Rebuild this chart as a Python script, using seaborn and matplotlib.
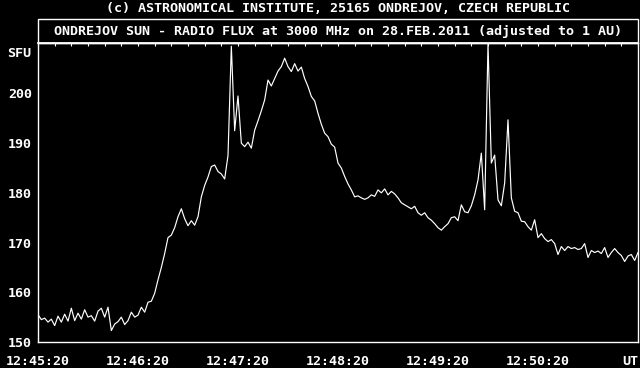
import numpy as np
import pandas as pd
import matplotlib
matplotlib.use("Agg")
import matplotlib.pyplot as plt
from matplotlib.patches import Rectangle
import seaborn as sns

# ---- data (seconds after 12:45:20, flux in SFU) ----
seconds = np.arange(0, 361, 2)
flux = [
    155.5, 154.5, 154.8, 154.0, 154.6, 153.3, 155.2, 154.0, 155.6, 154.2,
    156.8, 154.3, 155.8, 154.6, 156.5, 155.0, 155.3, 154.2, 156.2, 156.8,
    155.0, 157.0, 152.3, 153.6, 154.1, 155.0, 153.5, 154.3, 156.0, 155.0,
    155.4, 157.0, 156.0, 158.0, 158.2, 159.8, 162.5, 165.0, 167.8, 171.0,
    171.5, 173.0, 175.2, 176.8, 174.8, 173.4, 174.4, 173.5, 175.2, 179.2,
    181.5, 183.2, 185.3, 185.6, 184.3, 183.8, 182.8, 187.5, 209.5, 192.5,
    199.5, 190.0, 189.3, 190.2, 189.0, 192.6, 194.5, 196.5, 198.7, 202.7,
    201.5, 203.0, 204.5, 205.4, 207.1, 205.4, 204.4, 206.0, 204.5, 205.3,
    203.0, 201.4, 199.4, 198.5, 196.0, 193.8, 192.0, 191.3, 189.8, 189.2,
    186.0, 185.0, 183.3, 181.8, 180.6, 179.2, 179.4, 179.0, 178.7, 179.0,
    179.6, 179.3, 180.6, 180.0, 180.8, 179.6, 180.3, 179.8, 179.0, 178.0,
    177.6, 177.2, 176.8, 177.3, 176.0, 175.5, 176.0, 175.0, 174.5, 173.8,
    173.0, 172.5, 173.2, 173.8, 175.0, 175.2, 174.4, 177.6, 176.2, 176.0,
    177.4, 179.6, 182.6, 188.0, 176.6, 210.0, 186.0, 187.6, 178.6, 177.4,
    182.0, 194.7, 179.0, 176.3, 176.0, 174.3, 174.2, 173.2, 172.5, 174.6,
    171.0, 171.8, 170.8, 170.2, 170.6, 169.8, 167.6, 169.2, 168.4, 169.2,
    168.8, 169.0, 168.6, 168.8, 169.8, 167.0, 168.4, 168.0, 168.3, 167.8,
    169.0, 167.0, 168.0, 168.8, 168.0, 167.4, 166.2, 167.3, 167.6, 166.4,
    168.0,
]
x_tick_pos = [0, 60, 120, 180, 240, 300, 360]
x_tick_labels = ["12:45:20", "12:46:20", "12:47:20", "12:48:20",
                 "12:49:20", "12:50:20", "UT"]
y_tick_pos = [150, 160, 170, 180, 190, 200]
y_unit_label = "SFU"
title_top = "(c) ASTRONOMICAL INSTITUTE, 25165 ONDREJOV, CZECH REPUBLIC"
title_box = "ONDREJOV SUN - RADIO FLUX at 3000 MHz on 28.FEB.2011 (adjusted to 1 AU)"

df = pd.DataFrame({"t": seconds, "sfu": flux})

sns.set_theme(style="dark")
plt.rcParams["font.family"] = ["DejaVu Sans Mono"]
plt.rcParams["font.weight"] = "bold"

W, H = 640, 368
fig = plt.figure(figsize=(W / 100, H / 100), dpi=100, facecolor="black")
ax = fig.add_axes([38 / W, (H - 342) / H, 600 / W, 299 / H])
ax.set_facecolor("black")

sns.lineplot(data=df, x="t", y="sfu", ax=ax, color="white", linewidth=0.85)

ax.set_xlim(0, 360)
ax.set_ylim(150, 210.15)
ax.set_xlabel("")
ax.set_ylabel("")
for s in ax.spines.values():
    s.set_color("white")
    s.set_linewidth(1.0)
    s.set_visible(True)

fs = 9.6
ax.set_xticks(x_tick_pos)
ax.set_xticklabels(x_tick_labels)
ax.set_xticks(np.arange(0, 361, 10), minor=True)
ax.set_yticks(y_tick_pos)
ax.set_yticklabels([str(v) for v in y_tick_pos])
ax.set_yticks(list(range(152, 205, 2)) + [208], minor=True)

ax.tick_params(axis="both", which="major", colors="white", direction="out",
               length=2.2, width=2.2, labelsize=fs, labelcolor="white")
ax.tick_params(axis="x", which="major", pad=7)
ax.tick_params(axis="y", which="major", pad=2)
ax.tick_params(axis="both", which="minor", colors="white", direction="out",
               length=1.6, width=0.8)
for lab in ax.get_xticklabels():
    lab.set_fontweight("bold")
for lab in ax.get_yticklabels():
    lab.set_fontweight("bold")
ax.get_xticklabels()[-1].set_horizontalalignment("right")
ax.grid(False)

# inward ticks along the top edge
top = ax.secondary_xaxis("top")
top.set_xticks(np.arange(0, 361, 10))
top.set_xticklabels([])
top.tick_params(direction="in", length=2.0, width=0.8, colors="white")
top.spines["top"].set_color("white")

ax.text(-0.011, 208, y_unit_label, transform=ax.get_yaxis_transform(),
        ha="right", va="center", color="white", fontsize=fs, fontweight="bold")

# title frame above the plot area
fig.add_artist(Rectangle((38 / W, (H - 43) / H), 600 / W, 24 / H,
                         transform=fig.transFigure, fill=False,
                         edgecolor="white", linewidth=1.0))
fig.text(338 / W, 1 - 31.5 / H, title_box, ha="center", va="center",
         color="white", fontsize=fs, fontweight="bold")
fig.text(338 / W, 1 - 8 / H, title_top, ha="center", va="center",
         color="white", fontsize=fs, fontweight="bold")

fig.savefig("out.png", dpi=100, facecolor="black")
